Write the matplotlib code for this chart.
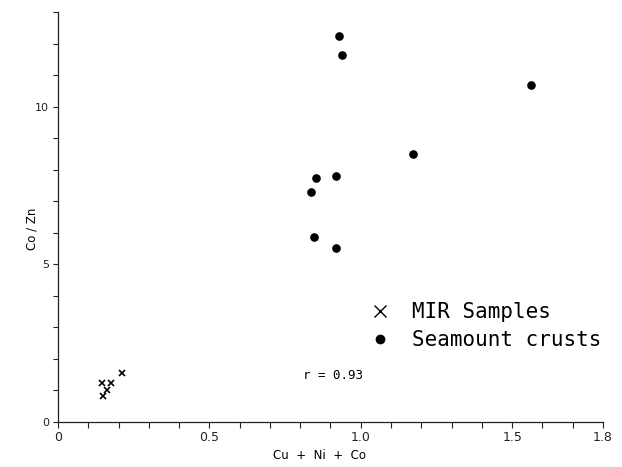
import matplotlib
matplotlib.use('Agg')
import matplotlib.pyplot as plt
import numpy as np

# === Data ===
mir_x = [0.147, 0.174, 0.162, 0.149, 0.213]
mir_y = [1.23, 1.25, 1.02, 0.83, 1.55]

crust_x = [0.928, 0.938, 1.563, 1.171, 0.919, 0.853, 0.837, 0.845, 0.917]
crust_y = [12.25, 11.63, 10.68, 8.50, 7.81, 7.73, 7.29, 5.88, 5.51]

x_ticks = [round(0.1 * i, 1) for i in range(19)]
x_labels = {0.0: '0', 0.5: '0.5', 1.0: '1.0', 1.5: '1.5', 1.8: '1.8'}
y_ticks = list(range(14))
y_labels = {0: '0', 5: '5', 10: '10'}

r_text = 'r = 0.93'

# === Plot ===
fig = plt.figure(figsize=(6.22, 4.67), dpi=100)
ax = fig.add_axes([0.0932, 0.0964, 0.8763, 0.8779])

ax.plot(mir_x, mir_y, linestyle='none', marker='x', color='black',
        markersize=4.5, markeredgewidth=1.2, label='MIR Samples')
ax.plot(crust_x, crust_y, linestyle='none', marker='o', color='black',
        markersize=5.2, label='Seamount crusts')

ax.set_xlim(0, 1.8)
ax.set_ylim(0, 13)

ax.spines['top'].set_visible(False)
ax.spines['right'].set_visible(False)
for s in ('left', 'bottom'):
    ax.spines[s].set_linewidth(0.9)
    ax.spines[s].set_color('#222222')

ax.set_xticks(x_ticks)
ax.set_xticklabels([x_labels.get(t, '') for t in x_ticks])
ax.set_yticks(y_ticks)
ax.set_yticklabels([y_labels.get(t, '') for t in y_ticks])
ax.tick_params(axis='x', direction='out', length=4.5, width=0.8, pad=2,
               labelsize=9, colors='#222222')
ax.tick_params(axis='y', direction='out', length=3.5, width=0.8, pad=3,
               labelsize=8, colors='#222222')

ax.set_xlabel('Cu  +  Ni  +  Co', fontsize=8.5)
ax.xaxis.set_label_coords(0.48, -0.065)
ax.set_ylabel('Co / Zn', fontsize=8.5)
ax.yaxis.set_label_coords(-0.036, 0.47)

ax.text(0.81, 1.46, r_text, fontsize=9, family='DejaVu Sans Mono',
        va='center', ha='left')

leg = ax.legend(loc='upper left', bbox_to_anchor=(0.572, 0.292),
                frameon=False, borderpad=0, borderaxespad=0,
                handlelength=1.0, handletextpad=1.05, labelspacing=0.38,
                prop={'family': 'DejaVu Sans Mono', 'size': 15})
leg.legend_handles[0].set_markersize(9)
leg.legend_handles[0].set_markeredgewidth(1.0)
leg.legend_handles[1].set_markersize(6)

plt.savefig('out.png', dpi=100)
